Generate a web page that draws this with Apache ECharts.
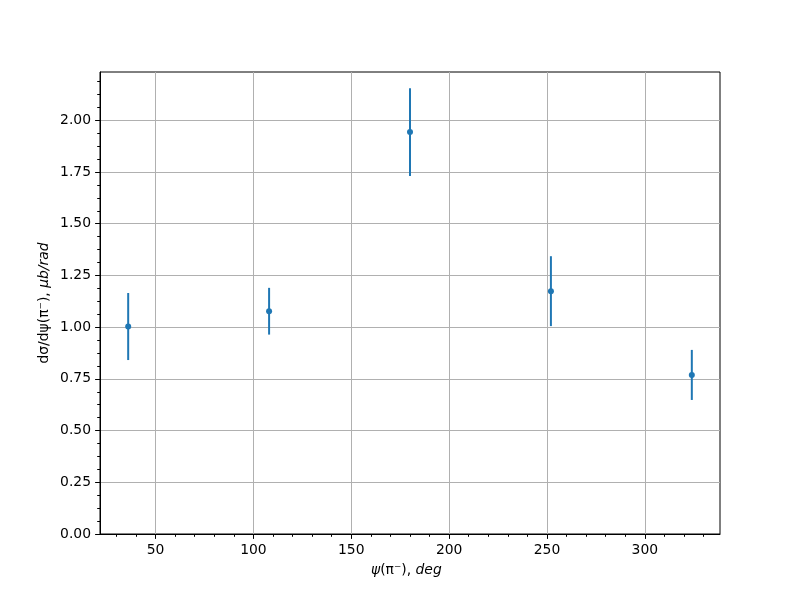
<!DOCTYPE html>
<html>
<head>
<meta charset="utf-8">
<script src="https://cdn.jsdelivr.net/npm/echarts@6/dist/echarts.min.js"></script>
<style>html,body{margin:0;padding:0;background:#fff}#c{width:800px;height:600px}</style>
</head>
<body>
<div id="c"></div>
<script>
const psi = [36, 108, 180, 252, 324];
const dsig = [1.003, 1.077, 1.943, 1.174, 0.769];
const dsigErr = [0.162, 0.113, 0.212, 0.169, 0.121];
const xTicks = [50, 100, 150, 200, 250, 300];
const xMinorTicks = [30, 40, 60, 70, 80, 90, 110, 120, 130, 140, 160, 170, 180, 190, 210, 220, 230, 240, 260, 270, 280, 290, 310, 320, 330];
const yTicks = [0, 0.25, 0.5, 0.75, 1.0, 1.25, 1.5, 1.75, 2.0];
const yMinorTicks = [0.0625, 0.125, 0.1875, 0.3125, 0.375, 0.4375, 0.5625, 0.625, 0.6875, 0.8125, 0.875, 0.9375, 1.0625, 1.125, 1.1875, 1.3125, 1.375, 1.4375, 1.5625, 1.625, 1.6875, 1.8125, 1.875, 1.9375, 2.0625, 2.125, 2.1875];
const xMin = 21.6, xMax = 338.4, yMin = 0, yMax = 2.2335;

const color = '#1f77b4';
const font = 'DejaVu Sans';
const fs = 13.9;

const chart = echarts.init(document.getElementById('c'), null, {renderer: 'canvas'});
const rows = psi.map((x, i) => [x, dsig[i], dsigErr[i]]);

const option = {
  animation: false,
  backgroundColor: '#fff',
  grid: {left: 100, right: 80, top: 72, bottom: 66, show: true, borderColor: '#000', borderWidth: 1, backgroundColor: 'transparent'},
  xAxis: [{
    type: 'value', min: xMin, max: xMax,
    axisLine: {show: true, onZero: false, lineStyle: {color: '#000', width: 1}},
    axisTick: {show: true, inside: false, length: 4.9, customValues: xTicks, lineStyle: {color: '#000', width: 1}},
    axisLabel: {show: true, customValues: xTicks, margin: 9, color: '#000', fontFamily: font, fontSize: fs, formatter: v => String(v)},
    splitLine: {show: true, lineStyle: {color: '#b0b0b0', width: 1}},
    name: '',
  }, {
    type: 'value', min: xMin, max: xMax, position: 'bottom',
    axisLine: {show: false},
    axisTick: {show: true, inside: false, length: 2.8, customValues: xMinorTicks, lineStyle: {color: '#000', width: 1}},
    axisLabel: {show: false},
    splitLine: {show: false}
  }],
  yAxis: [{
    type: 'value', min: yMin, max: yMax,
    axisLine: {show: true, onZero: false, lineStyle: {color: '#000', width: 1}},
    axisTick: {show: true, inside: false, length: 4.9, customValues: yTicks, lineStyle: {color: '#000', width: 1}},
    axisLabel: {show: true, customValues: yTicks, margin: 9, color: '#000', fontFamily: font, fontSize: fs, formatter: v => v.toFixed(2)},
    splitLine: {show: true, lineStyle: {color: '#b0b0b0', width: 1}}
  }, {
    type: 'value', min: yMin, max: yMax, position: 'left',
    axisLine: {show: false},
    axisTick: {show: true, inside: false, length: 2.8, customValues: yMinorTicks, lineStyle: {color: '#000', width: 1}},
    axisLabel: {show: false},
    splitLine: {show: false}
  }],
  graphic: [{
    type: 'text', left: 371, top: 563,
    style: {
      text: '{i|ψ}{n|(π⁻), }{i|deg}',
      rich: {
        i: {fontFamily: font, fontSize: fs, fontStyle: 'italic', fill: '#000'},
        n: {fontFamily: font, fontSize: fs, fill: '#000'}
      }
    }
  }, {
    type: 'text', x: 44, y: 303, rotation: Math.PI / 2,
    style: {
      text: '{n|dσ/dψ(π⁻), }{i|μb/rad}',
      align: 'center', verticalAlign: 'middle',
      rich: {
        i: {fontFamily: font, fontSize: fs, fontStyle: 'italic', fill: '#000'},
        n: {fontFamily: font, fontSize: fs, fill: '#000'}
      }
    }
  }],
  series: [{
    type: 'custom',
    xAxisIndex: 0, yAxisIndex: 0,
    data: rows,
    encode: {x: 0, y: 1},
    renderItem: function (params, api) {
      const x = api.value(0), y = api.value(1), e = api.value(2);
      const p1 = api.coord([x, y - e]);
      const p2 = api.coord([x, y + e]);
      return {type: 'line', shape: {x1: p1[0], y1: p1[1], x2: p2[0], y2: p2[1]}, style: {stroke: color, lineWidth: 2}};
    },
    z: 3
  }, {
    type: 'scatter',
    xAxisIndex: 0, yAxisIndex: 0,
    data: rows.map(r => [r[0], r[1]]),
    symbol: 'circle', symbolSize: 6,
    itemStyle: {color: color, opacity: 1},
    z: 4
  }]
};
chart.setOption(option);
</script>
</body>
</html>
